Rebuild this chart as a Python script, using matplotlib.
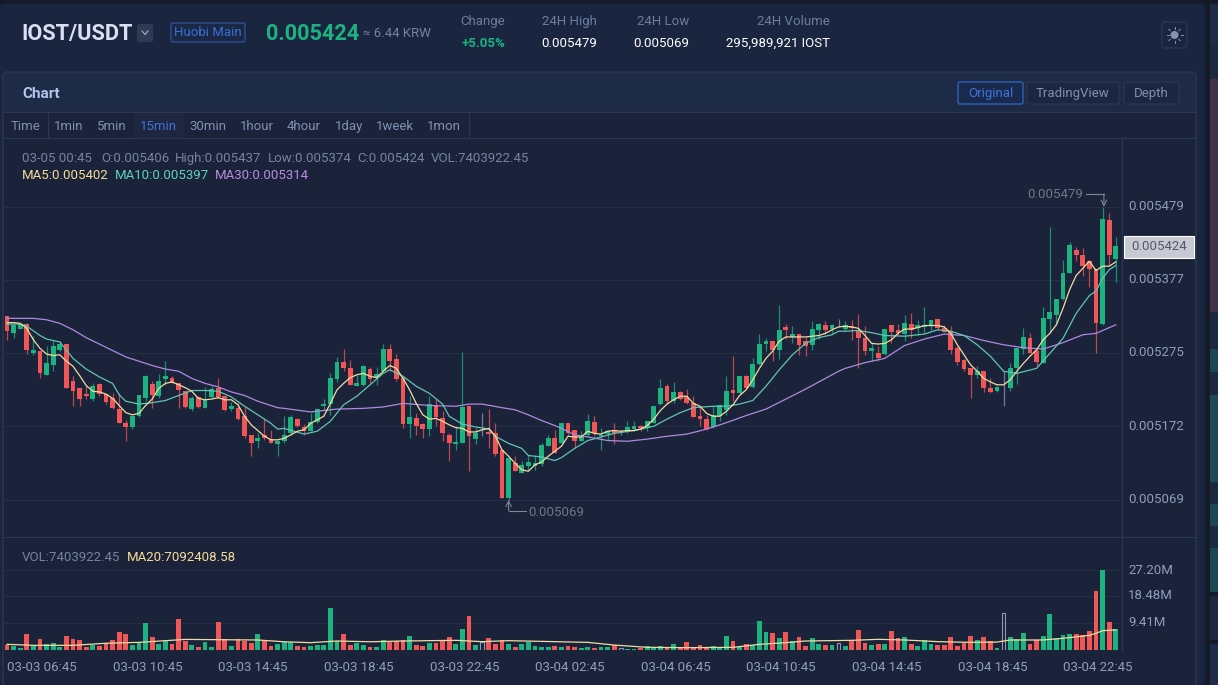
import numpy as np
import matplotlib
matplotlib.use("Agg")
from matplotlib import pyplot as plt
from matplotlib.patches import FancyBboxPatch, Rectangle, Circle
from matplotlib.transforms import ScaledTranslation

plt.rcParams['font.family'] = ['Roboto', 'DejaVu Sans']

# candles, price in 1e-6 USDT
opens = [5326,5302,5308,5315,5274,5278,5244,5258,5279,5287,
         5236,5225,5217,5210,5231,5217,5212,5196,5177,5171,
         5186,5212,5231,5214,5238,5240,5232,5221,5196,5213,
         5198,5213,5225,5214,5196,5198,5186,5160,5152,5160,
         5154,5147,5151,5162,5182,5171,5166,5178,5201,5203,
         5238,5262,5254,5229,5230,5252,5241,5249,5280,5266,
         5239,5175,5184,5175,5168,5202,5184,5160,5147,5149,
         5200,5154,5169,5164,5163,5139,5072,5120,5106,5116,
         5117,5119,5145,5156,5149,5176,5167,5152,5160,5178,
         5158,5161,5167,5163,5165,5168,5173,5170,5177,5203,
         5229,5207,5220,5213,5205,5187,5182,5171,5186,5195,
         5223,5218,5243,5227,5259,5287,5291,5279,5311,5297,
         5301,5292,5286,5307,5314,5308,5316,5308,5312,5306,
         5295,5278,5275,5273,5313,5307,5301,5315,5310,5311,
         5312,5322,5309,5305,5282,5265,5254,5244,5250,5225,
         5221,5226,5225,5253,5280,5295,5277,5260,5322,5327,
         5350,5387,5419,5411,5403,5392,5315,5461,5406]
closes = [5305,5313,5315,5279,5279,5247,5260,5285,5287,5225,
          5221,5210,5214,5229,5217,5206,5197,5177,5171,5187,
          5216,5242,5216,5235,5243,5233,5223,5199,5212,5199,
          5209,5224,5213,5195,5200,5182,5159,5148,5156,5155,
          5148,5152,5160,5185,5172,5166,5178,5196,5203,5239,
          5262,5254,5230,5232,5257,5238,5245,5280,5264,5238,
          5175,5185,5173,5168,5203,5185,5163,5148,5150,5199,
          5158,5163,5169,5161,5133,5072,5127,5110,5118,5122,
          5120,5146,5156,5134,5177,5163,5151,5157,5180,5162,
          5160,5166,5162,5163,5171,5173,5169,5180,5201,5225,
          5208,5220,5210,5204,5185,5182,5168,5188,5202,5222,
          5219,5242,5225,5259,5287,5292,5279,5306,5306,5301,
          5286,5285,5308,5315,5307,5314,5316,5314,5310,5296,
          5277,5281,5267,5308,5304,5302,5316,5306,5313,5314,
          5321,5309,5304,5279,5262,5252,5244,5250,5225,5220,
          5227,5226,5254,5281,5297,5275,5262,5323,5332,5350,
          5386,5425,5411,5396,5392,5317,5462,5411,5424]
highs = [5326,5313,5316,5317,5298,5278,5284,5293,5291,5287,
         5243,5225,5230,5232,5232,5217,5218,5218,5181,5188,
         5216,5244,5235,5245,5264,5243,5232,5221,5214,5215,
         5227,5229,5239,5215,5206,5204,5199,5160,5162,5183,
         5167,5153,5187,5188,5183,5175,5190,5197,5210,5246,
         5269,5280,5265,5244,5258,5255,5255,5287,5287,5273,
         5239,5214,5190,5176,5215,5210,5193,5162,5172,5276,
         5200,5169,5190,5196,5176,5139,5127,5130,5124,5132,
         5132,5148,5160,5167,5177,5176,5167,5165,5189,5186,
         5169,5166,5176,5167,5180,5180,5174,5180,5201,5238,
         5231,5234,5222,5224,5214,5200,5188,5200,5203,5243,
         5271,5243,5244,5267,5301,5295,5292,5341,5315,5312,
         5301,5297,5319,5316,5319,5315,5322,5319,5321,5329,
         5312,5288,5284,5308,5313,5315,5327,5330,5320,5339,
         5321,5322,5314,5312,5284,5266,5254,5256,5250,5239,
         5228,5249,5260,5281,5309,5303,5280,5339,5451,5350,
         5404,5430,5423,5421,5403,5392,5479,5470,5437]
lows = [5293,5296,5308,5273,5272,5240,5244,5249,5277,5225,
        5200,5200,5210,5208,5214,5203,5196,5176,5152,5168,
        5185,5207,5198,5212,5230,5232,5198,5197,5194,5197,
        5197,5212,5212,5194,5193,5181,5156,5131,5141,5153,
        5148,5130,5148,5160,5171,5160,5165,5176,5195,5188,
        5234,5249,5230,5228,5229,5232,5230,5247,5249,5235,
        5170,5156,5160,5156,5159,5172,5152,5124,5139,5148,
        5110,5147,5159,5141,5130,5071,5069,5110,5106,5111,
        5111,5116,5144,5134,5148,5160,5141,5152,5159,5158,
        5139,5153,5147,5160,5163,5166,5166,5166,5176,5202,
        5203,5204,5209,5203,5185,5172,5167,5169,5180,5188,
        5207,5217,5224,5225,5258,5277,5264,5266,5294,5288,
        5272,5271,5279,5294,5301,5302,5311,5305,5293,5253,
        5272,5264,5264,5272,5288,5300,5291,5295,5299,5302,
        5307,5306,5304,5273,5258,5250,5211,5239,5220,5218,
        5220,5201,5222,5231,5273,5274,5255,5260,5302,5314,
        5349,5386,5403,5382,5367,5274,5314,5397,5374]

# volume in millions
volumes = [2.02,1.79,1.01,5.71,1.90,4.03,2.24,2.58,1.46,5.04,
           4.03,3.70,1.34,2.13,1.68,2.58,3.70,6.38,5.71,2.13,
           2.80,9.41,4.70,2.35,3.47,2.35,10.75,3.47,2.02,1.34,
           3.02,1.34,9.74,3.92,1.68,3.92,3.47,2.69,5.71,3.47,
           1.68,2.35,3.02,3.14,1.68,1.34,1.68,2.13,2.13,14.45,
           3.47,5.71,2.02,2.69,2.02,1.34,1.34,3.58,3.02,3.25,
           3.70,5.04,2.02,1.68,2.80,2.80,3.36,4.70,2.46,7.39,
           11.76,2.02,3.14,4.37,2.35,3.58,2.35,1.34,2.35,3.14,
           1.68,1.34,1.34,1.68,1.34,1.68,1.34,0.90,1.34,1.01,
           1.34,1.34,1.90,1.01,0.78,0.56,1.01,1.57,1.23,1.57,
           1.23,2.35,1.23,3.02,1.23,2.02,1.23,1.57,1.34,5.04,
           3.36,1.23,2.35,2.02,10.08,6.38,6.05,4.37,6.38,3.47,
           4.70,1.68,4.26,2.35,1.90,1.90,2.58,1.68,3.70,7.06,
           2.80,1.90,2.35,2.46,6.72,4.37,4.59,2.35,1.68,3.58,
           2.35,2.02,2.02,4.59,1.68,2.80,4.93,3.58,4.59,3.25,
           0.90,12.66,4.59,3.92,5.94,2.46,3.58,4.93,12.32,4.26,
           5.26,5.71,5.60,5.38,6.72,20.16,27.20,9.74,7.40]

ma5 = [5317,5317,5316,5309,5293,5281,5273,5271,5272,5263,
       5256,5243,5229,5221,5220,5217,5211,5201,5191,5188,
       5190,5201,5210,5225,5232,5234,5230,5226,5221,5211,
       5209,5210,5212,5209,5209,5202,5186,5174,5166,5158,
       5153,5153,5155,5160,5165,5167,5176,5181,5186,5204,
       5223,5232,5240,5244,5246,5242,5240,5249,5257,5253,
       5239,5223,5204,5188,5182,5183,5179,5174,5170,5169,
       5164,5164,5167,5169,5158,5139,5130,5120,5111,5109,
       5118,5122,5130,5137,5144,5158,5157,5157,5165,5162,
       5161,5165,5166,5165,5166,5166,5168,5173,5182,5194,
       5203,5209,5214,5214,5204,5200,5190,5186,5186,5193,
       5202,5215,5223,5237,5253,5267,5277,5291,5297,5297,
       5297,5297,5298,5299,5302,5307,5311,5312,5311,5309,
       5299,5288,5287,5288,5293,5302,5308,5308,5310,5313,
       5313,5313,5311,5302,5286,5272,5258,5249,5239,5234,
       5230,5230,5237,5249,5260,5270,5279,5293,5302,5314,
       5337,5363,5383,5393,5403,5390,5396,5396,5402]

ma10_idx = [0,2,3,5,6,8,10,12,14,16,17,18,20,22,24,26,28,30,32,34,36,38,40,41,
            42,45,47,49,51,53,55,57,58,60,62,64,66,67,69,71,73,74,76,78,79,81,83,
            84,86,88,90,92,95,98,100,102,104,107,109,111,113,115,117,119,121,123,125,126,
            127,129,131,133,136,139,141,143,145,147,149,151,153,156,158,160,162,164,165,166,167,168]
ma10 = [5315,5315,5312,5299,5294,5290,5267,5252,5241,5232,5216,5207,5203,5205,5208,5215,5222,5222,5221,5213,5200,5188,5176,5168,
        5169,5161,5165,5179,5202,5214,5230,5246,5251,5242,5228,5218,5203,5186,5175,5171,5168,5158,5148,5141,5131,5129,5124,
        5128,5141,5152,5157,5162,5166,5172,5182,5191,5198,5200,5200,5203,5208,5228,5251,5272,5288,5296,5300,5305,
        5305,5306,5303,5299,5298,5301,5307,5305,5299,5286,5270,5249,5246,5253,5274,5295,5330,5355,5361,5379,5391,5397]

ma30_idx = [0,4,6,8,10,12,14,16,18,20,22,24,26,28,30,32,34,36,38,40,41,
            42,46,50,54,57,60,64,68,70,72,75,77,79,81,83,
            84,86,88,91,94,97,100,103,106,109,112,115,118,121,124,126,
            127,130,133,136,139,142,145,148,151,154,157,160,163,165,168]
ma30 = [5323,5323,5321,5316,5307,5296,5287,5278,5269,5263,5257,5252,5249,5239,5232,5227,5220,5215,5207,5201,5198,
        5197,5192,5196,5197,5199,5204,5201,5200,5203,5203,5198,5195,5188,5180,5173,
        5169,5160,5157,5152,5151,5154,5158,5161,5168,5177,5187,5196,5210,5224,5239,5249,
        5253,5261,5267,5285,5294,5301,5299,5292,5286,5282,5280,5289,5300,5302,5314]

vol_ma_idx = [0,4,10,15,20,24,27,32,38,42,46,50,55,60,68,72,76,83,88,92,97,103,110,114,118,121,128,132,136,141,146,150,152,157,160,164,165,166,168]
vol_ma20 = [2.24,1.90,1.90,2.60,2.90,3.47,3.90,3.80,3.70,3.10,2.80,3.36,3.10,3.36,3.58,3.14,3.47,3.14,2.90,2.00,1.23,1.12,1.23,2.24,2.80,3.36,3.58,3.92,3.70,3.14,2.90,3.00,3.70,3.70,4.26,5.26,5.94,6.83,7.09]

price_ticks = [5069,5172,5275,5377,5479]
price_labels = ['0.005069','0.005172','0.005275','0.005377','0.005479']
vol_ticks = [9.41,18.48,27.20]
vol_labels = ['9.41M','18.48M','27.20M']
time_idx = [5,21,37,53,69,85,101,117,133,149,165]
time_labels = ['03-03 06:45','03-03 10:45','03-03 14:45','03-03 18:45','03-03 22:45',
               '03-04 02:45','03-04 06:45','03-04 10:45','03-04 14:45','03-04 18:45','03-04 22:45']
tabs = ['Time','1min','5min','15min','30min','1hour','4hour','1day','1week','1mon']
tab_x = [26,69,112,158,208,257,304,349,395,444]

GREEN = '#1db381'
RED = '#f05656'
FLAT = '#8c9ab8'
PAGE = '#141a28'
PANEL = '#1a2540'
BODY = '#1a233a'
HEAD = '#1e2b47'
LINE = '#2c3852'
GRID = '#232e47'
TICK = '#8f9dbd'
GRAY = '#76839e'
W, H = 1218, 685

fig = plt.figure(figsize=(W/100, H/100), dpi=100, facecolor=PAGE)

# page furniture drawn in pixel coordinates
bg = fig.add_axes([0, 0, 1, 1])
bg.set_xlim(0, W)
bg.set_ylim(H, 0)
bg.axis('off')

def box(x0, y0, x1, y1, fc, ec='none', r=0, lw=1):
    if r:
        p = FancyBboxPatch((x0+r, y0+r), x1-x0-2*r, y1-y0-2*r, boxstyle='round,pad=%d' % r, fc=fc, ec=ec, lw=lw)
    else:
        p = Rectangle((x0, y0), x1-x0, y1-y0, fc=fc, ec=ec, lw=lw)
    bg.add_patch(p)

def label(x, y, s, color, size=9.5, **kw):
    # matplotlib centres a pixel high compared with the page
    kw.setdefault('va', 'center')
    bg.text(x, y+1, s, color=color, fontsize=size, **kw)

box(0, 4, 1205, H, PANEL, r=4)
# right hand list, only the colour blocks
for y0, y1, col in [(4,45,'#1f2c48'),(45,79,'#1a2a3c'),(79,312,'#40304a'),(312,349,'#1a2a3c'),(349,372,'#1c4650'),
                    (372,395,'#1a2a3c'),(395,482,'#1f4a55'),(482,504,'#1a2a3c'),(504,526,'#1c4650'),(526,548,'#1a2a3c'),
                    (548,592,'#1c4650'),(596,640,'#1d2840'),(644,H,'#1f2c48')]:
    box(1210, y0, W, y1, col)

box(3, 72, 1196, H+6, BODY, ec=LINE, r=4)
box(4, 73, 1195, 112, HEAD)
bg.plot([3, 1196], [112, 112], color=LINE, lw=0.8)
bg.plot([3, 1196], [138, 138], color=LINE, lw=0.8)
box(134, 113, 184, 138, '#1e2640')
bg.plot([47.5, 47.5], [112, 138], color=LINE, lw=0.8)
bg.plot([468.5, 468.5], [112, 138], color=LINE, lw=0.8)
bg.plot([1122, 1122], [138, 651], color=LINE, lw=0.8)
bg.plot([3, 1196], [537, 537], color=LINE, lw=0.8)

label(21, 32.5, 'IOST/USDT', '#d9e0f2', size=15.7, fontweight='bold')
box(137, 24, 153, 42, '#303a55', r=2)
bg.plot([142, 145, 148], [31, 34.5, 31], color='#aab4cc', lw=0.8)
box(171, 23, 245, 42, '#1a2846', ec='#2c4f8f', r=2)
label(208, 31, 'Huobi Main', '#3b6fd6', ha='center')
label(266, 32.5, '0.005424', GREEN, size=15.6, fontweight='bold')
label(363, 32.5, '≈ 6.44 KRW', '#74829f')

label(505, 20.5, 'Change', '#6d7d9e', ha='right')
label(505, 42.5, '+5.05%', GREEN, fontweight='bold', ha='right')
label(597, 20.5, '24H High', '#6d7d9e', ha='right')
label(597, 42.5, '0.005479', 'white', ha='right')
label(689, 20.5, '24H Low', '#6d7d9e', ha='right')
label(689, 42.5, '0.005069', 'white', ha='right')
label(830, 20.5, '24H Volume', '#6d7d9e', ha='right')
label(830, 42.5, '295,989,921 IOST', 'white', ha='right')

box(1162, 22, 1187, 48, PANEL, ec='#2a3650', r=3)
bg.add_patch(Circle((1174.5, 35), 4, fc='#8593b3', ec='none'))
for a in np.arange(0, 360, 45):
    ca, sa = np.cos(np.radians(a)), np.sin(np.radians(a))
    bg.plot([1174.5+6*ca, 1174.5+8*ca], [35+6*sa, 35+8*sa], color='#8593b3', lw=0.7)

label(22, 92.5, 'Chart', '#b4c6ee', size=11, fontweight='bold')
box(958, 82, 1023, 104, '#1a2a4c', ec='#2f62b8', r=2, lw=1)
label(990.5, 92.5, 'Original', '#3d72d8', ha='center')
box(1027, 82, 1119, 104, '#1b2640', ec='#2a3650', r=2)
label(1073, 92.5, 'TradingView', '#8090b0', ha='center')
box(1124, 82, 1179, 104, '#1b2640', ec='#2a3650', r=2)
label(1151.5, 92.5, 'Depth', '#8090b0', ha='center')

for name, tx in zip(tabs, tab_x):
    label(tx, 125.5, name, '#3d72d8' if name == '15min' else '#8090b0', ha='center')

label(22, 157.5, '03-05 00:45', GRAY)
label(101, 157.5, 'O:0.005406', GRAY)
label(175, 157.5, 'High:0.005437', GRAY)
label(268, 157.5, 'Low:0.005374', GRAY)
label(357, 157.5, 'C:0.005424', GRAY)
label(431, 157.5, 'VOL:7403922.45', GRAY)
label(22, 174.5, 'MA5:0.005402', '#f5dc96')
label(115, 174.5, 'MA10:0.005397', '#5fd3b9')
label(215, 174.5, 'MA30:0.005314', '#b98ce2')
label(22, 556.5, 'VOL:7403922.45', GRAY)
label(127, 556.5, 'MA20:7092408.58', '#f5dc96')

box(1124, 235.5, 1194, 257.5, '#c8cad3', ec='white', lw=0.8)
label(1159, 245, '0.005424', '#555a66', ha='center')

# tick labels sit a little higher in the original
up = ScaledTranslation(0, 1.5/100, fig.dpi_scale_trans)

# price panel
ax = fig.add_axes([3/W, 1-537/H, 1119/W, 398/H], facecolor='none')
ax.set_xlim(-0.606, 168.94)
ax.set_ylim(5017, 5574)

x = np.arange(len(closes))
o = np.array(opens)
c = np.array(closes)
colors = np.where(c > o, GREEN, np.where(c < o, RED, FLAT))
ax.vlines(x, lows, highs, colors=colors, lw=0.9, alpha=0.75, zorder=2)
ax.bar(x, np.abs(c-o), bottom=np.minimum(o, c), width=0.72, color=colors, lw=0, zorder=3)
ax.plot(ma30_idx, ma30, color='#b08ade', lw=0.9, zorder=4)
ax.plot(ma10_idx, ma10, color='#62c4b2', lw=0.9, zorder=4)
ax.plot(x, ma5, color='#f0dca0', lw=0.9, zorder=5)

ax.set_yticks(price_ticks)
ax.set_yticklabels(price_labels)
ax.yaxis.tick_right()
ax.tick_params(axis='y', length=0, pad=4.3, labelsize=9.5, labelcolor=TICK)
ax.set_xticks([])
ax.grid(axis='y', color=GRID, lw=0.8, zorder=0)
ax.set_axisbelow(True)
for s in ax.spines.values():
    s.set_visible(False)
for t in ax.get_yticklabels():
    t.set_transform(t.get_transform() + up)

# high and low markers
ax.plot([163.5, 166.2], [5497, 5497], color='#7e8794', lw=0.8)
ax.annotate('', xy=(166.2, 5479), xytext=(166.2, 5497), arrowprops=dict(arrowstyle='->', color='#7e8794', lw=0.8, shrinkA=0, shrinkB=0))
ax.text(163.0, 5497, '0.005479', color='#6f7888', fontsize=9.5, ha='right', va='center')
ax.plot([76, 78.6], [5054, 5054], color='#7e8794', lw=0.8)
ax.annotate('', xy=(76, 5069), xytext=(76, 5054), arrowprops=dict(arrowstyle='->', color='#7e8794', lw=0.8, shrinkA=0, shrinkB=0))
ax.text(79.0, 5051.5, '0.005069', color='#6f7888', fontsize=9.5, ha='left', va='center')

# volume panel
ax2 = fig.add_axes([3/W, 1-651/H, 1119/W, 114/H], facecolor='none')
ax2.set_xlim(-0.606, 168.94)
ax2.set_ylim(0, 38.3)
solid = c != o
ax2.bar(x[solid], np.array(volumes)[solid], width=0.72, color=colors[solid], lw=0, zorder=3)
ax2.bar(x[~solid], np.array(volumes)[~solid], width=0.55, facecolor='none', edgecolor=FLAT, lw=0.8, zorder=3)
ax2.plot(vol_ma_idx, vol_ma20, color='#f0dca0', lw=0.9, zorder=4)
ax2.axhline(0.45, color=BODY, lw=0.7, zorder=5)

ax2.set_yticks(vol_ticks)
ax2.set_yticklabels(vol_labels)
ax2.yaxis.tick_right()
ax2.set_xticks(np.array(time_idx)+0.3)
ax2.set_xticklabels(time_labels)
ax2.tick_params(axis='y', length=0, pad=4.3, labelsize=9.5, labelcolor=TICK)
ax2.tick_params(axis='x', length=0, pad=7.5, labelsize=9.5, labelcolor=TICK)
ax2.grid(axis='y', color=GRID, lw=0.8, zorder=0)
ax2.set_axisbelow(True)
for s in ax2.spines.values():
    s.set_visible(False)
for t in ax2.get_yticklabels():
    t.set_transform(t.get_transform() + up)

fig.savefig('out.png', dpi=100, facecolor=fig.get_facecolor())
